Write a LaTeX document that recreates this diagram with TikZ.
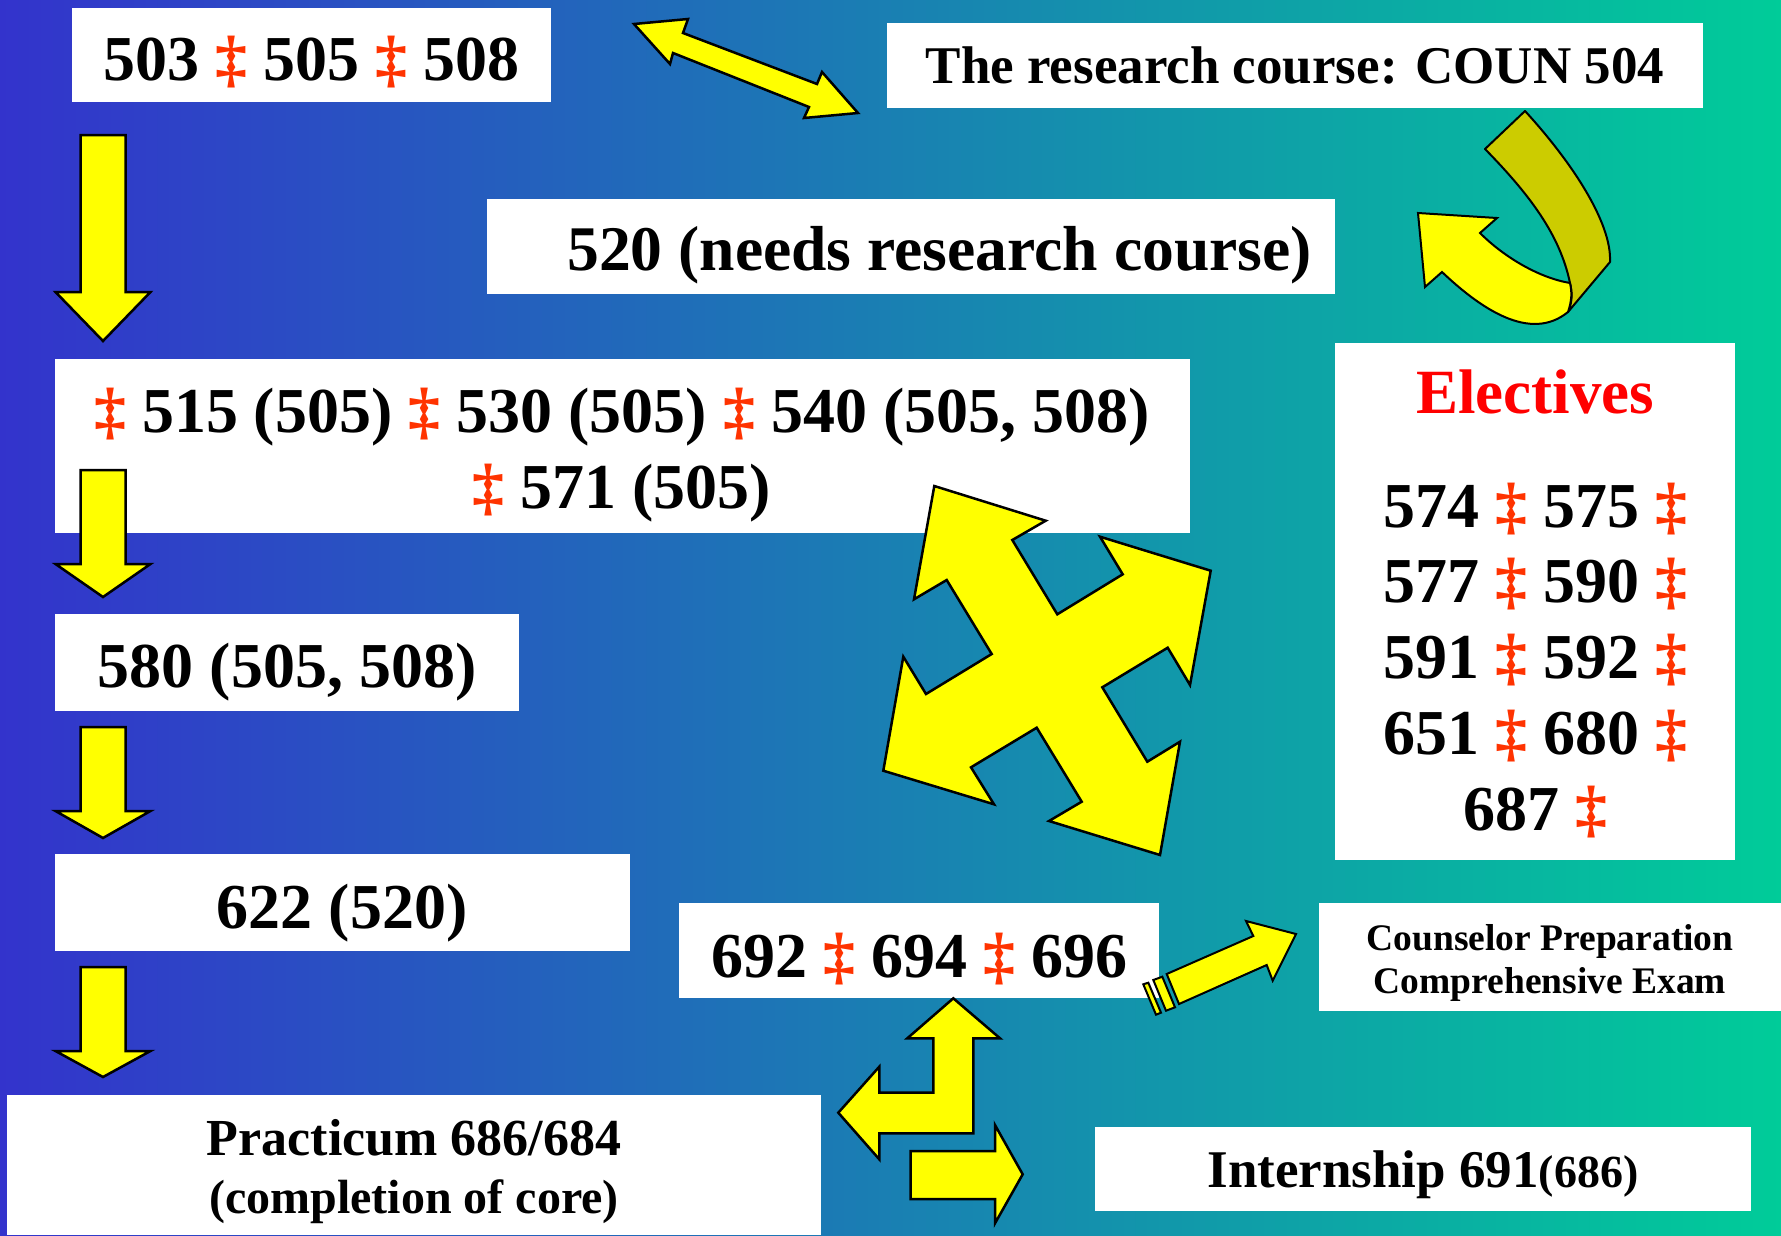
\documentclass[tikz,border=0pt]{standalone}
\usepackage{fontspec}
\setmainfont{Liberation Serif}
\usetikzlibrary{fit}
\definecolor{bgleft}{RGB}{51,51,204}
\definecolor{bgright}{RGB}{0,204,153}
\definecolor{dagred}{RGB}{255,51,0}
\definecolor{olivefold}{RGB}{204,204,0}
\definecolor{yel}{RGB}{255,255,0}
\newcommand\rdag{{\color{dagred}‡}}
\begin{document}
\begin{tikzpicture}[x=1pt,y=-1pt,
  box/.style={fill=white,draw=none,inner sep=0pt},
  txt/.style={font={\bfseries\fontsize{64}{76}\selectfont},inner sep=0pt,anchor=base},
  mid/.style={font={\bfseries\fontsize{53}{60}\selectfont},inner sep=0pt,anchor=base},
  small/.style={font={\bfseries\fontsize{37.5}{43}\selectfont},inner sep=0pt,anchor=base},
  yarrow/.style={fill=yel,draw=black,line width=2.5pt,line join=miter}]
\useasboundingbox (0,0) rectangle (1781,1235);
\shade[left color=bgleft,right color=bgright] (0,0) rectangle (1781,1235);

% boxes
\node[box,fit={(72,8)(551,102)}] (b503) {};
\node[box,fit={(887,23)(1703,108)}] (bres) {};
\node[box,fit={(487,199)(1335,294)}] (b520) {};
\node[box,fit={(55,359)(1190,533)}] (bcore) {};
\node[box,fit={(55,614)(519,711)}] (b580) {};
\node[box,fit={(55,854)(630,951)}] (b622) {};
\node[box,fit={(7,1095)(821,1235)}] (bprac) {};
\node[box,fit={(679,903)(1159,998)}] (b692) {};
\node[box,fit={(1319,903)(1781,1011)}] (bcpce) {};
\node[box,fit={(1095,1127)(1751,1211)}] (bintern) {};
\node[box,fit={(1335,343)(1735,860)}] (belec) {};

% texts
\node[txt] (t503) at (311,80) {503 \rdag{} 505 \rdag{} 508};
\node[mid] (tres) at (1295,83) {The research course: COUN 504};
\node[txt,anchor=base west,font={\bfseries\fontsize{63.6}{70}\selectfont}] (t520) at (567,270) {520 (needs research course)};
\node[txt] (tcore1) at (622,432) {\rdag{} 515 (505) \rdag{} 530 (505) \rdag{} 540 (505, 508)};
\node[txt] (tcore2) at (622,508) {\rdag{} 571 (505)};
\node[txt] (t580) at (287,687) {580 (505, 508)};
\node[txt] (t622) at (342,928) {622 (520)};
\node[txt,font={\bfseries\fontsize{52}{58}\selectfont}] (tprac1) at (414,1155) {Practicum 686/684};
\node[txt,font={\bfseries\fontsize{48}{54}\selectfont}] (tprac2) at (414,1213) {(completion of core)};
\node[txt] (t692) at (919,977) {692 \rdag{} 694 \rdag{} 696};
\node[small] (tcpce1) at (1550,950) {Counselor Preparation};
\node[small] (tcpce2) at (1550,993) {Comprehensive Exam};
\node[mid] (tintern) at (1423,1187) {Internship 691{\fontsize{46}{50}\selectfont(686)}};
\node[txt,font={\bfseries\fontsize{63}{70}\selectfont},text=red] (telec) at (1535,413) {Electives};
\node[txt] (te1) at (1535,527) {574 \rdag{} 575 \rdag};
\node[txt] (te2) at (1535,602) {577 \rdag{} 590 \rdag};
\node[txt] (te3) at (1535,678) {591 \rdag{} 592 \rdag};
\node[txt] (te4) at (1535,754) {651 \rdag{} 680 \rdag};
\node[txt] (te5) at (1535,830) {687 \rdag};

% down arrows on the left
\foreach \t/\b/\p in {135/292/341, 470/564/597, 727/811/838, 967/1051/1077}
  \draw[yarrow] (80.5,\t) -- (125.5,\t) -- (125.5,\b) -- (150.5,\b) -- (103,\p)
     -- (55.5,\b) -- (80.5,\b) -- cycle;

% double arrow at the top
\draw[yarrow] (634,24) -- (688,19) -- (683,33) -- (817,84) -- (822,72) -- (858,113)
  -- (804,118) -- (809,107) -- (673,53) -- (670,64) -- cycle;

% curved arrow (folded ribbon)
\draw[fill=olivefold,draw=black,line width=2pt,line join=round]
  (1485,149) -- (1525,111) .. controls (1570,160) and (1612,222) .. (1610,262)
  -- (1568,312) .. controls (1573,300) and (1572,292) .. (1570,283)
  .. controls (1560,235) and (1530,195) .. (1485,149) -- cycle;
\draw[fill=yel,draw=black,line width=2pt,line join=miter]
  (1570,283) .. controls (1540,278) and (1505,258) .. (1480,233) -- (1497,218)
  -- (1418,213) -- (1425,287) -- (1442,272)
  .. controls (1480,308) and (1530,343) .. (1568,312)
  .. controls (1572,300) and (1572,292) .. (1570,283) -- cycle;

% four-way arrow
\draw[yarrow] (934.3,486) -- (1045.7,520.7) -- (1012.3,540) -- (1057.3,614.3)
  -- (1122.7,574.3) -- (1100,536.7) -- (1210.7,570.7) -- (1190,685)
  -- (1167.7,647.7) -- (1102.3,687.3) -- (1147.3,761.7) -- (1180,741.7)
  -- (1160,855) -- (1049,821) -- (1081.7,801.7) -- (1036.7,727.7)
  -- (971,767.3) -- (994,804.3) -- (883.3,770.7) -- (903.3,656.7)
  -- (926,694) -- (991.7,654) -- (946.7,580) -- (914,599.3) -- cycle;

% striped arrow towards the exam
\draw[yarrow,line width=2pt] (1179,1004) -- (1166.7,974) -- (1253.3,936) -- (1246,921)
  -- (1296,934) -- (1272.7,980.7) -- (1266.7,965) -- cycle;
\draw[yarrow,line width=2pt] (1153.3,980) -- (1162.3,976.7) -- (1175,1007.3) -- (1166,1010.7) -- cycle;
\draw[yarrow,line width=2pt] (1143.3,984.3) -- (1148.3,982.7) -- (1161,1012.7) -- (1156,1014.7) -- cycle;

% bent arrows at the bottom
\draw[yarrow] (953.3,998.3) -- (1000,1038.3) -- (973.3,1038.3) -- (973.3,1133.3)
  -- (879.3,1133.3) -- (879.3,1159.3) -- (838.3,1112.7) -- (879.3,1066.7)
  -- (879.3,1092.7) -- (933.3,1092.7) -- (933.3,1038.3) -- (907.3,1038.3) -- cycle;
\draw[yarrow] (910.7,1151) -- (995,1151) -- (995,1125) -- (1022.7,1174.3)
  -- (995,1223.3) -- (995,1199) -- (910.7,1199) -- cycle;
\end{tikzpicture}
\end{document}
